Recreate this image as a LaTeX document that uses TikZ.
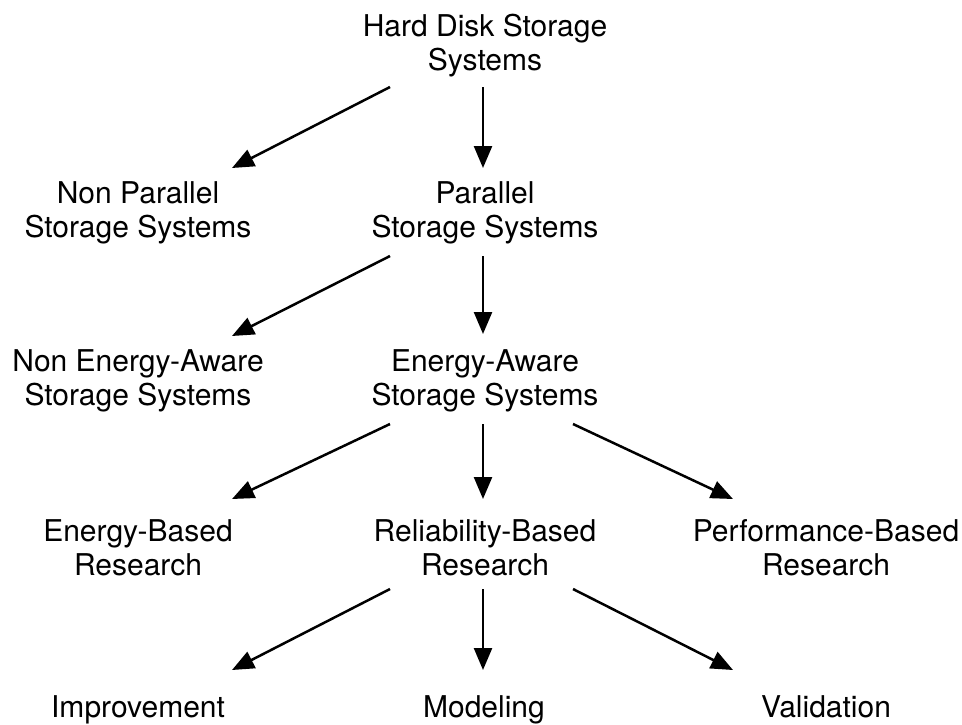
\documentclass[tikz,border=0pt]{standalone}
\usepackage{fontspec}
\setmainfont{TeX Gyre Heros}
\usetikzlibrary{arrows.meta,positioning}
\tikzset{>={Triangle[length=22pt,width=18pt]}}
\tikzset{txt/.style={align=center, inner sep=0pt, font=\fontsize{30}{34}\selectfont}}

\begin{document}
\begin{tikzpicture}[line width=2.5pt]
      \useasboundingbox (0,0) rectangle (962pt,-724pt);
      \node[txt] (n0) at (485pt,-46pt) {Hard Disk Storage\\Systems};
      \node[txt, below of=n0, node distance=167pt] (n2) {Parallel\\Storage Systems};
      \node[txt, left of=n2, node distance=347pt] (n1) {Non Parallel\\Storage Systems};
      \node[txt, below of=n2, node distance=168pt] (n4) {Energy-Aware\\Storage Systems};
      \node[txt, left of=n4, node distance=347pt] (n3) {Non Energy-Aware\\Storage Systems};
      \node[txt, below of=n4, node distance=167pt] (n6) {Reliability-Based\\Research};
      \node[txt, left of=n6, node distance=347pt] (n5) {Energy-Based\\Research};
      \node[txt, right of=n6, node distance=341pt] (n7) {Performance-Based\\Research};
      \node[txt, anchor=base] (n9) at (484pt,-717pt) {Modeling};
      \node[txt, anchor=base] (n8) at (138pt,-717pt) {Improvement};
      \node[txt, anchor=base] (n10) at (826pt,-717pt) {Validation};
      % hard disk -> parallel / non parallel
      \draw[->] ([shift={(-95pt,-41pt)}]n0.center) -- ([shift={(94pt,45pt)}]n1.center);
      \draw[->] ([shift={(-2pt,-41pt)}]n0.center) -- ([shift={(-2pt,45pt)}]n2.center);
      % parallel -> energy-aware / non energy-aware
      \draw[->] ([shift={(-95pt,-43pt)}]n2.center) -- ([shift={(94pt,45pt)}]n3.center);
      \draw[->] ([shift={(-2pt,-43pt)}]n2.center) -- ([shift={(-2pt,47pt)}]n4.center);
      % energy-aware -> research areas
      \draw[->] ([shift={(-95pt,-43pt)}]n4.center) -- ([shift={(94pt,49pt)}]n5.center);
      \draw[->] ([shift={(-2pt,-43pt)}]n4.center) -- ([shift={(-2pt,49pt)}]n6.center);
      \draw[->] ([shift={(88pt,-43pt)}]n4.center) -- ([shift={(-93pt,49pt)}]n7.center);
      % reliability -> subtopics
      \draw[->] ([shift={(-95pt,-41pt)}]n6.center) -- ([shift={(94pt,47pt)}]n8.base);
      \draw[->] ([shift={(-2pt,-41pt)}]n6.center) -- ([shift={(-1pt,47pt)}]n9.base);
      \draw[->] ([shift={(88pt,-41pt)}]n6.center) -- ([shift={(-93pt,47pt)}]n10.base);
\end{tikzpicture}
\end{document}
